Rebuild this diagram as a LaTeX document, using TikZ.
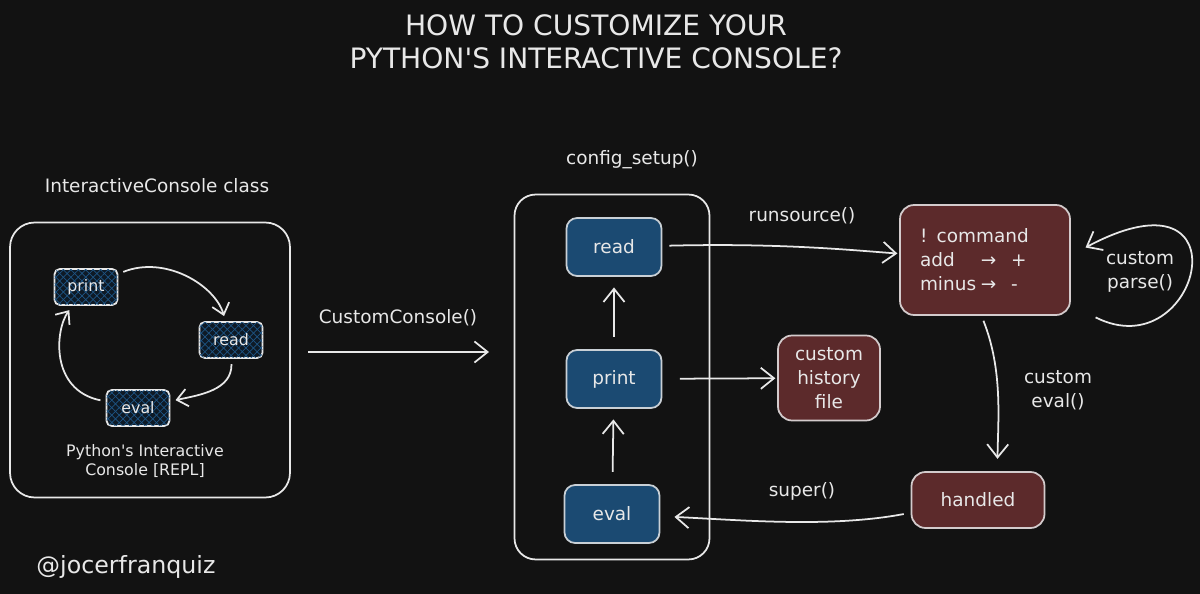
\documentclass[tikz,border=0pt]{standalone}
\usepackage{fontspec}
\setmainfont{DejaVu Sans}[Ligatures=TeXOff]
\usetikzlibrary{positioning, arrows.meta, patterns.meta}
\definecolor{bgDark}{HTML}{121212}
\definecolor{inkWhite}{HTML}{E8E8E8}
\definecolor{stepBlue}{HTML}{1B4A72}
\definecolor{customRed}{HTML}{5C2A2B}
\definecolor{hatchBlue}{HTML}{1E5585}
\definecolor{hatchBg}{HTML}{0E1A26}

\begin{document}
\begin{tikzpicture}[
    x=0.02cm, y=-0.02cm,
    frame/.style={draw=inkWhite, line width=1pt, rounded corners=14pt},
    loopbox/.style={draw=inkWhite, line width=1pt, rounded corners=3pt, minimum width=1.26cm, minimum height=0.72cm,
      fill=hatchBg,
      postaction={pattern={Lines[angle=45, distance=3pt, line width=0.4pt]}, pattern color=hatchBlue},
      postaction={pattern={Lines[angle=-45, distance=3pt, line width=0.4pt]}, pattern color=hatchBlue},
      text=inkWhite, font=\fontsize{9}{11}\selectfont},
    stepbox/.style={draw=inkWhite!85!stepBlue, line width=1pt, rounded corners=6pt, fill=stepBlue,
      minimum width=1.9cm, minimum height=1.16cm, text=inkWhite, font=\fontsize{10.5}{13}\selectfont},
    custombox/.style={draw=inkWhite!85!customRed, line width=1pt, rounded corners=8pt, fill=customRed,
      align=center, text=inkWhite, font=\fontsize{10.5}{13.6}\selectfont},
    lbl/.style={text=inkWhite, align=center, font=\fontsize{10.5}{13.6}\selectfont},
    arr/.style={draw=inkWhite, line width=1pt, -{Straight Barb[length=7.5pt, width=12pt]}, shorten <=3pt, shorten >=3pt},
    smallarr/.style={arr, -{Straight Barb[length=6pt, width=10pt]}},
  ]
  \fill[bgDark] (0,0) rectangle (1200,594);
  \useasboundingbox (0,0) rectangle (1200,594);

  % title
  \node[text=inkWhite, align=center, font=\fontsize{16}{19}\selectfont] (title) at (596,42)
    {HOW TO CUSTOMIZE YOUR\\PYTHON'S INTERACTIVE CONSOLE?};

  % REPL on the left
  \node[frame, minimum width=5.6cm, minimum height=5.5cm] (repl) at (150,360) {};
  \node[lbl] (repllbl) at (157,186) {InteractiveConsole class};
  \node[loopbox] (print1) at (86,287) {print};
  \node[loopbox] (read1) at (231,340) {read};
  \node[loopbox] (eval1) at (138,408) {eval};
  \node[lbl, font=\fontsize{9}{11.3}\selectfont] (replcap) at (145,461) {Python's Interactive\\Console [REPL]};
  \draw[smallarr] (print1) .. controls (165,255) and (215,285) .. (read1);
  \draw[smallarr] (read1) .. controls (232,390) and (200,395) .. (eval1);
  \draw[smallarr] (eval1) .. controls (50,390) and (55,330) .. (print1);

  % custom console
  \node[lbl] (customlbl) at (398,318) {CustomConsole()};
  \node[frame, rounded corners=12pt, minimum width=3.9cm, minimum height=7.3cm] (setup) at (612,377) {};
  \node[lbl] (setuplbl) at (632,160) {config\_setup()};
  \node[stepbox] (read) at (614,247) {read};
  \node[stepbox] (print) at (614,379) {print};
  \node[stepbox] (eval) at (612,514) {eval};
  \draw[arr, shorten <=10pt, shorten >=14pt] (repl.east |- 0,352) -- (setup.west |- 0,352);
  \draw[arr, shorten <=7pt, shorten >=6pt] (eval) -- (print);
  \draw[arr, shorten <=7pt, shorten >=6pt] (print) -- (read);

  % custom parts
  \node[custombox, minimum width=2.04cm, minimum height=1.7cm] (hist) at (829,378) {custom\\history\\file};
  \node[custombox, minimum width=3.4cm, minimum height=2.2cm, text width=2.6cm, align=left] (cmd) at (985,260)
    {! command\\\makebox[3.3em][l]{add}→\hspace{0.8em}+\\\makebox[3.3em][l]{minus}→\hspace{0.8em}-};
  \node[custombox, minimum width=2.66cm, minimum height=1.12cm] (handled) at (978,500) {handled};
  \node[lbl] (runlbl) at (802,216) {runsource()};
  \node[lbl] (parselbl) at (1140,272) {custom\\parse()};
  \node[lbl] (evallbl) at (1058,390) {custom\\eval()};
  \node[lbl] (superlbl) at (802,491) {super()};
  \draw[arr, shorten <=10pt, shorten >=1pt] (print) -- (hist);
  \draw[arr, shorten <=4pt, shorten >=1pt] (read) .. controls (780,243) and (850,250) .. (cmd);
  \draw[arr] ([shift={(20,55)}]cmd.east) .. controls (1200,370) and (1250,160) .. ([shift={(10,-10)}]cmd.east);
  \draw[arr, shorten >=7pt] ([xshift=-2pt]cmd.south) .. controls (1003,370) and (998,420) .. ([xshift=11pt]handled.north);
  \draw[arr, shorten <=4pt, shorten >=8pt] (handled) .. controls (830,528) and (740,520) .. (eval);

  % signature
  \node[text=inkWhite, font=\fontsize{13.5}{16}\selectfont] (sign) at (126,567) {@jocerfranquiz};
\end{tikzpicture}
\end{document}
